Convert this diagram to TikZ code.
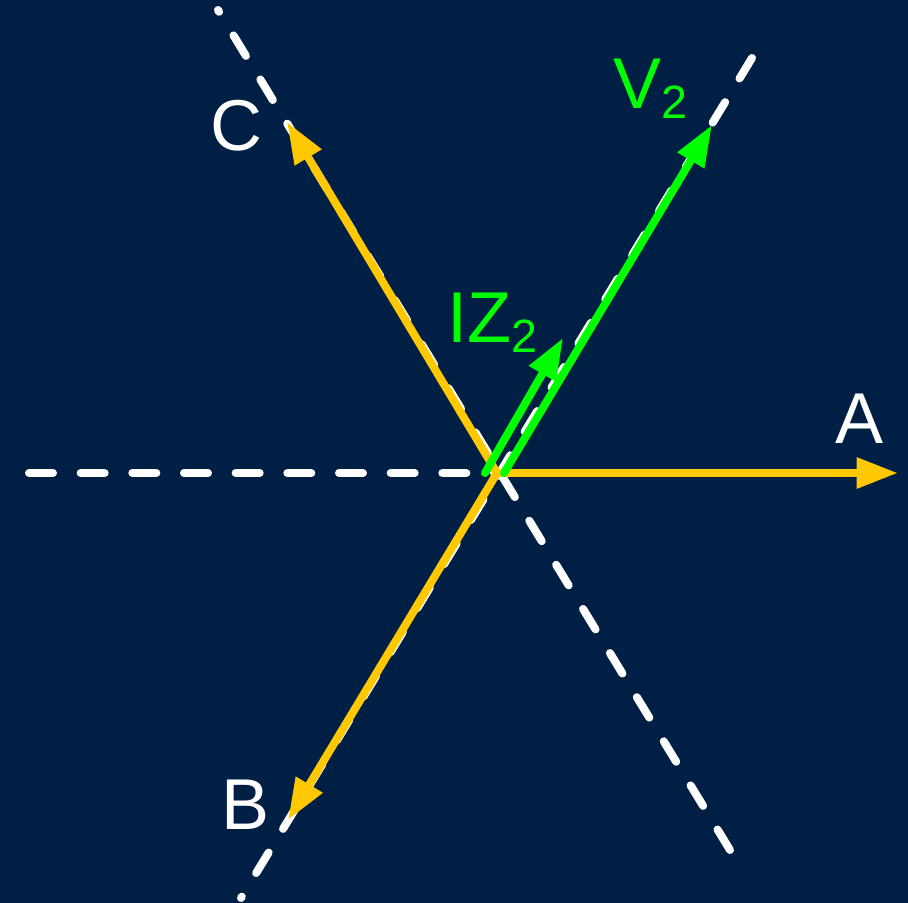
\documentclass[tikz,border=0pt]{standalone}
\usepackage{fontspec}
\setmainfont{Liberation Sans}
\usetikzlibrary{arrows.meta}
\definecolor{navy}{RGB}{0,31,68}
\definecolor{phase}{RGB}{255,200,0}
\definecolor{seq}{RGB}{0,255,0}
\newcommand\lowidx[1]{\raisebox{-7.5pt}{\fontsize{35}{40}\selectfont#1}}
\begin{document}
\begin{tikzpicture}[x=.75pt,y=-.75pt,
axis/.style={white,line width=6pt,line cap=round,dash pattern=on 18pt off 20.75pt},
phasor/.style={line width=6pt,line cap=round,-{Triangle[length=31pt,width=22pt]}},
lbl/.style={inner sep=0pt,anchor=base,font=\fontsize{54}{60}\selectfont}]
\fill[navy] (0,0) rectangle (908,903);
% axes
\coordinate (O) at (497,473);
\foreach \n/\p in {h0/{29,473},c0/{730,850},c1/{218,10},b0/{752,58},b1/{241,898}}{\coordinate (\n) at (\p);}
\draw[axis] (h0)--(O);\draw[axis] (c0)--(c1);\draw[axis] (b0)--(b1);
% phases
\foreach \n/\p in {A/{898,473},B/{288,820},C/{287,122}}{\coordinate (\n) at (\p);\draw[phasor,phase] (O)--(\n);}
% sequence quantities
\coordinate (i0) at (485,473);\coordinate (i1) at (563,338);
\coordinate (v0) at (504,473);\coordinate (v1) at (712,125);
\draw[phasor,seq] (i0)--(i1);\draw[phasor,seq] (v0)--(v1);
\node[lbl,white] (la) at (860,443){A};\node[lbl,white] (lc) at (236,150){C};\node[lbl,white] (lb) at (246,829){B};
\node[lbl,seq] (lv) at (650,108){V\lowidx{2}};\node[lbl,seq] (li) at (492,342){IZ\lowidx{2}};
\end{tikzpicture}
\end{document}
